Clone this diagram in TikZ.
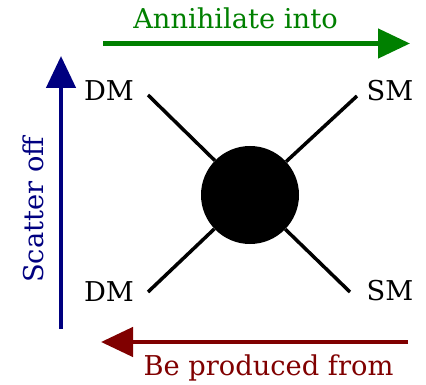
\documentclass[tikz,border=0pt]{standalone}
\usepackage{fontspec}
\setmainfont{DejaVu Serif}
\usetikzlibrary{arrows.meta}
\definecolor{agreen}{RGB}{0,128,0}
\definecolor{anavy}{RGB}{0,0,128}
\definecolor{amaroon}{RGB}{128,0,0}
\tikzset{
  lbl/.style={font=\fontsize{27.3}{31}\selectfont, inner sep=0pt},
  bigarrow/.style={line width=4.6pt, -{Triangle[length=32pt,width=29pt]}},
  leg/.style={line width=3.5pt},
}
\begin{document}
\begin{tikzpicture}[x=1pt,y=-1pt]
\useasboundingbox (0,0) rectangle (426,385);
% arrows
\coordinate (ta) at (103,43.5);
\coordinate (tb) at (410,43.5);
\draw[bigarrow, agreen] (ta) -- (tb);
\node[lbl, text=agreen] (tt) at (235.5,18) {Annihilate into};
\coordinate (ba) at (408,342);
\coordinate (bb) at (101,342);
\draw[bigarrow, amaroon] (ba) -- (bb);
\node[lbl, text=amaroon] (bt) at (268.5,368) {Be produced from};
\coordinate (la) at (61,329);
\coordinate (lb) at (61,56);
\draw[bigarrow, anavy] (la) -- (lb);
\node[lbl, text=anavy, rotate=90] (lt) at (33,210) {Scatter off};
% blob
\node[circle, fill=black, minimum size=98pt, inner sep=0pt] (c) at (250,195) {};
\node[lbl] (dm1) at (109,91) {DM};
\node[lbl] (sm1) at (390,91) {SM};
\node[lbl] (dm2) at (109,292) {DM};
\node[lbl] (sm2) at (390,291) {SM};
\coordinate (p1) at (148,95);
\coordinate (p2) at (357,96);
\coordinate (p3) at (148,292);
\coordinate (p4) at (350,292);
\draw[leg] (p1) -- (c);
\draw[leg] (p2) -- (c);
\draw[leg] (p3) -- (c);
\draw[leg] (p4) -- (c);
\end{tikzpicture}
\end{document}
